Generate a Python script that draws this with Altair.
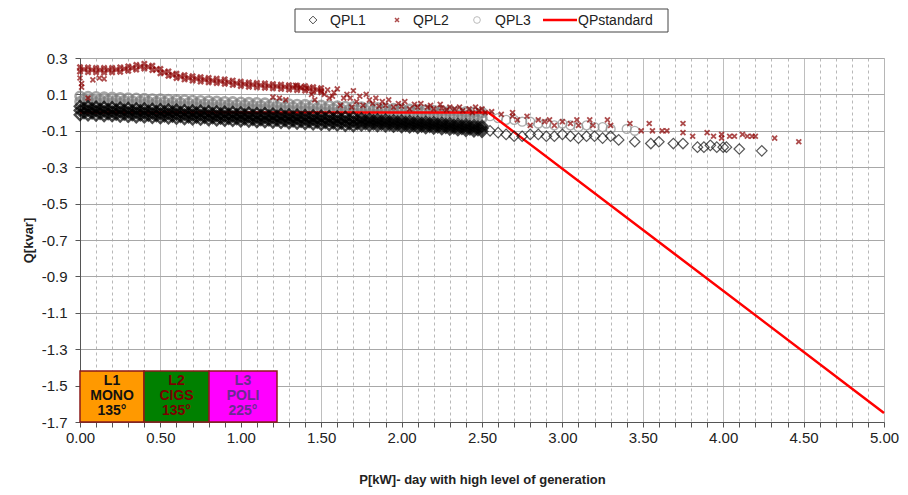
import altair as alt
import pandas as pd

# ---------------- data ----------------
P_DENSE = [0.00, 0.05, 0.10, 0.15, 0.20, 0.25, 0.30, 0.35, 0.40, 0.45,
           0.50, 0.55, 0.60, 0.65, 0.70, 0.75, 0.80, 0.85, 0.90, 0.95,
           1.00, 1.05, 1.10, 1.15, 1.20, 1.25, 1.30, 1.35, 1.40, 1.45,
           1.50, 1.55, 1.60, 1.65, 1.70, 1.75, 1.80, 1.85, 1.90, 1.95,
           2.00, 2.05, 2.10, 2.15, 2.20, 2.25, 2.30, 2.35, 2.40, 2.45, 2.50]
P_HALF = [0.025, 0.075, 0.125, 0.175, 0.225, 0.275, 0.325, 0.375, 0.425, 0.475,
          0.525, 0.575, 0.625, 0.675, 0.725, 0.775, 0.825, 0.875, 0.925, 0.975,
          1.025, 1.075, 1.125, 1.175, 1.225, 1.275, 1.325, 1.375, 1.425, 1.475,
          1.525, 1.575, 1.625, 1.675, 1.725, 1.775, 1.825, 1.875, 1.925, 1.975,
          2.025, 2.075, 2.125, 2.175, 2.225, 2.275, 2.325, 2.375, 2.425, 2.475]

# QPL1 dense band (rows across the black cloud)
QPL1_UP = [0.035, 0.034, 0.031, 0.030, 0.028, 0.026, 0.024, 0.022, 0.021, 0.019,
           0.017, 0.016, 0.014, 0.012, 0.010, 0.009, 0.007, 0.005, 0.003, 0.002,
           0.000, -0.002, -0.004, -0.005, -0.007, -0.009, -0.011, -0.013, -0.015, -0.017,
           -0.019, -0.021, -0.023, -0.025, -0.027, -0.033, -0.036, -0.039, -0.041, -0.044,
           -0.046, -0.048, -0.051, -0.053, -0.055, -0.058, -0.061, -0.064, -0.067, -0.070, -0.073]
QPL1_MID = [0.012, 0.011, 0.008, 0.007, 0.005, 0.003, 0.001, -0.001, -0.002, -0.004,
            -0.006, -0.007, -0.009, -0.011, -0.013, -0.014, -0.016, -0.018, -0.020, -0.021,
            -0.023, -0.025, -0.027, -0.028, -0.030, -0.032, -0.034, -0.036, -0.038, -0.040,
            -0.042, -0.044, -0.046, -0.048, -0.050, -0.051, -0.053, -0.055, -0.057, -0.060,
            -0.062, -0.064, -0.066, -0.068, -0.070, -0.073, -0.076, -0.079, -0.082, -0.085, -0.088]
QPL1_LO = [-0.012, -0.013, -0.015, -0.017, -0.018, -0.020, -0.022, -0.024, -0.025, -0.027,
           -0.029, -0.030, -0.032, -0.034, -0.036, -0.037, -0.039, -0.041, -0.043, -0.044,
           -0.046, -0.048, -0.050, -0.051, -0.053, -0.055, -0.057, -0.059, -0.061, -0.063,
           -0.065, -0.067, -0.069, -0.071, -0.073, -0.069, -0.071, -0.072, -0.074, -0.076,
           -0.078, -0.080, -0.082, -0.084, -0.086, -0.089, -0.092, -0.095, -0.098, -0.101, -0.104]
QPL1_HU = [0.023, 0.021, 0.019, 0.017, 0.015, 0.013, 0.011, 0.010, 0.008, 0.006,
           0.005, 0.003, 0.001, -0.001, -0.002, -0.004, -0.006, -0.008, -0.009, -0.011,
           -0.013, -0.015, -0.016, -0.018, -0.020, -0.022, -0.024, -0.026, -0.028, -0.030,
           -0.032, -0.034, -0.036, -0.038, -0.040, -0.043, -0.045, -0.047, -0.050, -0.052,
           -0.054, -0.057, -0.059, -0.061, -0.064, -0.067, -0.070, -0.073, -0.076, -0.079]
QPL1_HL = [-0.001, -0.003, -0.005, -0.007, -0.009, -0.010, -0.012, -0.014, -0.015, -0.017,
           -0.019, -0.020, -0.022, -0.024, -0.026, -0.027, -0.029, -0.031, -0.033, -0.034,
           -0.036, -0.038, -0.040, -0.041, -0.043, -0.045, -0.047, -0.049, -0.051, -0.053,
           -0.055, -0.057, -0.059, -0.061, -0.061, -0.061, -0.063, -0.065, -0.067, -0.069,
           -0.071, -0.073, -0.075, -0.077, -0.080, -0.082, -0.085, -0.088, -0.091, -0.094]
QPL1_TAIL_P = [2.55, 2.60, 2.65, 2.70, 2.75, 2.80, 2.85, 2.90, 2.95, 3.00, 3.05, 3.10,
               3.15, 3.20, 3.25, 3.30, 3.35, 3.45, 3.55, 3.60, 3.69, 3.75, 3.84, 3.88,
               3.92, 3.96, 4.00, 4.02, 4.10, 4.24]
QPL1_TAIL_Q = [-0.10, -0.11, -0.12, -0.13, -0.13, -0.12, -0.12, -0.13, -0.13, -0.12, -0.13, -0.14,
               -0.13, -0.13, -0.14, -0.13, -0.15, -0.16, -0.17, -0.16, -0.17, -0.17, -0.19, -0.19,
               -0.18, -0.19, -0.19, -0.19, -0.20, -0.21]

# QPL3 dense band (grey circles)
QPL3_UP = [0.090, 0.088, 0.087, 0.085, 0.084, 0.082, 0.080, 0.079, 0.077, 0.075,
           0.074, 0.072, 0.070, 0.069, 0.067, 0.065, 0.064, 0.062, 0.060, 0.059,
           0.057, 0.055, 0.054, 0.052, 0.050, 0.049, 0.047, 0.045, 0.044, 0.042,
           0.040, 0.038, 0.036, 0.034, 0.032, 0.030, 0.028, 0.026, 0.024, 0.022,
           0.020, 0.018, 0.016, 0.014, 0.012, 0.010, 0.008, 0.006, 0.004, 0.002, 0.000]
QPL3_LO = [0.060, 0.058, 0.056, 0.055, 0.053, 0.051, 0.049, 0.047, 0.046, 0.044,
           0.042, 0.040, 0.038, 0.037, 0.035, 0.033, 0.031, 0.029, 0.028, 0.026,
           0.024, 0.022, 0.020, 0.019, 0.017, 0.015, 0.013, 0.011, 0.010, 0.008,
           0.006, 0.004, 0.002, 0.001, -0.001, -0.003, -0.005, -0.007, -0.008, -0.010,
           -0.012, -0.014, -0.016, -0.017, -0.019, -0.021, -0.023, -0.025, -0.026, -0.028, -0.030]
QPL3_HM = [0.074, 0.072, 0.071, 0.069, 0.068, 0.066, 0.064, 0.063, 0.061, 0.059,
           0.058, 0.056, 0.054, 0.053, 0.051, 0.049, 0.048, 0.046, 0.044, 0.043,
           0.041, 0.039, 0.038, 0.036, 0.034, 0.032, 0.031, 0.029, 0.027, 0.025,
           0.023, 0.021, 0.019, 0.017, 0.016, 0.014, 0.012, 0.010, 0.008, 0.006,
           0.004, 0.002, 0.000, -0.002, -0.004, -0.006, -0.008, -0.010, -0.012, -0.014]
QPL3_TAIL_P = [0.08, 0.57, 2.55, 2.60, 2.65, 2.70, 2.75, 2.80, 2.85, 2.90, 2.95, 3.00,
               3.05, 3.10, 3.15, 3.20, 3.25, 3.30, 3.40, 3.45]
QPL3_TAIL_Q = [0.025, 0.015, -0.02, -0.03, -0.04, -0.04, -0.05, -0.05, -0.06, -0.06, -0.07, -0.06,
               -0.07, -0.08, -0.07, -0.08, -0.08, -0.09, -0.09, -0.10]

# QPL2 dense band for P 0.00 .. 1.50 (dark red crosses)
QPL2_UP = [0.250, 0.248, 0.246, 0.245, 0.246, 0.249, 0.254, 0.262, 0.268, 0.258,
           0.240, 0.226, 0.214, 0.206, 0.200, 0.195, 0.190, 0.186, 0.182, 0.176,
           0.170, 0.166, 0.163, 0.160, 0.157, 0.154, 0.151, 0.148, 0.145, 0.140, 0.135]
QPL2_LO = [0.225, 0.222, 0.221, 0.220, 0.221, 0.224, 0.229, 0.236, 0.242, 0.234,
           0.216, 0.202, 0.190, 0.182, 0.176, 0.171, 0.166, 0.162, 0.158, 0.152,
           0.146, 0.142, 0.139, 0.136, 0.133, 0.130, 0.127, 0.124, 0.121, 0.116, 0.111]
QPL2_HM = [0.237, 0.235, 0.234, 0.234, 0.236, 0.240, 0.246, 0.253, 0.251, 0.237,
           0.221, 0.208, 0.198, 0.191, 0.186, 0.181, 0.176, 0.172, 0.167, 0.161,
           0.156, 0.153, 0.150, 0.147, 0.144, 0.141, 0.138, 0.135, 0.131, 0.126]
QPL2_SCAT_P = [0.00, 0.01, 0.01, 0.08, 0.12, 0.15, 0.05,
               1.20, 1.24, 1.28, 1.34, 1.37, 1.41, 1.44, 1.46, 1.50, 1.52, 1.54, 1.55, 1.57,
               1.58, 1.60, 1.62, 1.64, 1.66, 1.68, 1.69, 1.70, 1.72, 1.74, 1.76, 1.78,
               1.80, 1.82, 1.84, 1.86, 1.88, 1.90, 1.92, 1.95, 1.98, 2.00, 2.02, 2.05,
               2.08, 2.10, 2.12, 2.16, 2.18, 2.20, 2.24, 2.25, 2.28, 2.30, 2.33, 2.36,
               2.38, 2.42, 2.44, 2.46, 2.48, 2.50, 2.52, 2.56, 2.62, 2.69, 2.69, 2.72,
               2.78, 2.80, 2.85, 2.89, 2.92, 2.95, 3.00, 3.05, 3.09, 3.10, 3.17, 3.19,
               3.28, 3.30, 3.42, 3.49, 3.54, 3.56, 3.62, 3.65, 3.75, 3.75, 3.81, 3.90,
               3.94, 3.99, 3.99, 4.04, 4.07, 4.12, 4.15, 4.18, 4.20, 4.32, 4.47]
QPL2_SCAT_Q = [0.19, 0.16, 0.14, 0.18, 0.19, 0.185, 0.08,
               0.085, 0.08, 0.07, 0.15, 0.14, 0.135, 0.10, 0.07, 0.12, 0.10, 0.125, 0.08, 0.09,
               0.11, 0.13, 0.04, 0.08, 0.10, 0.08, 0.03, 0.12, 0.06, 0.09, 0.04, 0.10,
               0.07, 0.05, 0.08, 0.035, 0.06, 0.04, 0.07, 0.03, 0.05, 0.035, 0.06, 0.02,
               0.045, 0.03, 0.05, 0.03, 0.04, 0.02, 0.045, 0.025, 0.015, 0.03, 0.02, 0.03,
               0.01, 0.02, 0.00, 0.03, 0.01, 0.02, 0.00, 0.005, -0.01, 0.00, -0.02, -0.04,
               -0.02, -0.07, -0.04, -0.05, -0.04, -0.07, -0.05, -0.06, -0.04, -0.07, -0.04, -0.07,
               -0.04, -0.07, -0.06, -0.10, -0.06, -0.10, -0.10, -0.10, -0.06, -0.11, -0.13, -0.11,
               -0.13, -0.12, -0.14, -0.13, -0.13, -0.12, -0.13, -0.13, -0.13, -0.14, -0.16]

# QPstandard characteristic
STD_P = [0.00, 2.54, 5.00]
STD_Q = [0.00, 0.00, -1.65]

X_TICKS = [round(i * 0.1, 1) for i in range(51)]
Y_TICKS = [-1.7, -1.5, -1.3, -1.1, -0.9, -0.7, -0.5, -0.3, -0.1, 0.1, 0.3]

# ---------------- tables ----------------
n2 = len(QPL2_UP)
n2h = len(QPL2_HM)
df1d = pd.DataFrame({"P": P_DENSE * 3 + P_HALF * 2,
                     "Q": QPL1_UP + QPL1_MID + QPL1_LO + QPL1_HU + QPL1_HL})
df1t = pd.DataFrame({"P": QPL1_TAIL_P, "Q": QPL1_TAIL_Q})
df3d = pd.DataFrame({"P": P_DENSE * 2 + P_HALF, "Q": QPL3_UP + QPL3_LO + QPL3_HM})
df3t = pd.DataFrame({"P": QPL3_TAIL_P, "Q": QPL3_TAIL_Q})
df2d = pd.DataFrame({"P": P_DENSE[:n2] * 2 + P_HALF[:n2h], "Q": QPL2_UP + QPL2_LO + QPL2_HM})
df2t = pd.DataFrame({"P": QPL2_SCAT_P, "Q": QPL2_SCAT_Q})
dfs = pd.DataFrame({"P": STD_P, "Q": STD_Q})

FONT = "Liberation Sans"
major = "abs(datum.value*2 - round(datum.value*2)) < 0.001"

xscale = alt.Scale(domain=[0, 5], nice=False, zero=False, padding=0)
yscale = alt.Scale(domain=[-1.7, 0.3], nice=False, zero=False, padding=0)

xaxis = alt.Axis(
    values=X_TICKS,
    labelExpr=f"{major} ? format(datum.value, '.2f') : ''",
    labelOverlap=False, labelFlush=False, labelFont=FONT, labelFontSize=15,
    labelColor="#222222", labelPadding=3,
    title="P[kW]- day with high level of generation",
    titleFont=FONT, titleFontSize=13, titleFontWeight="bold", titleColor="#222222",
    titlePadding=28,
    tickSize=5, tickColor="#555555", domainColor="#555555",
    grid=True,
    gridColor={"condition": {"test": major, "value": "#a8a8a8"}, "value": "#b8b8b8"},
    gridDash={"condition": {"test": major, "value": [1, 0]}, "value": [3, 3]},
)
yaxis = alt.Axis(
    values=Y_TICKS,
    labelExpr="(datum.value < 0 ? '-' : '') + format(abs(datum.value), '.1f')",
    labelFlush=False, labelOverlap=False,
    labelFont=FONT, labelFontSize=15, labelColor="#222222", labelPadding=8,
    title="Q[kvar]", titleFont=FONT, titleFontSize=13, titleFontWeight="bold",
    titleColor="#222222", titlePadding=6,
    tickSize=5, tickColor="#555555", domainColor="#555555",
    grid=True, gridColor="#a8a8a8",
)

X = alt.X("P:Q", scale=xscale, axis=xaxis)
Y = alt.Y("Q:Q", scale=yscale, axis=yaxis)

XPATH = "M-1,-1L1,1M1,-1L-1,1"

# dense clouds are drawn with heavier strokes to mimic heavy overplotting
l3d = alt.Chart(df3d).mark_point(shape="circle", filled=False, color="#7f7f7f",
                                 size=80, strokeWidth=2.6).encode(x=X, y=Y)
l3t = alt.Chart(df3t).mark_point(shape="circle", filled=False, color="#8c8c8c",
                                 size=80, strokeWidth=1.3).encode(x=X, y=Y)
lstd = alt.Chart(dfs).mark_line(color="#ff0000", strokeWidth=2.5).encode(x=X, y=Y)
l1d = alt.Chart(df1d).mark_point(shape="diamond", filled=False, color="#000000",
                                 size=110, strokeWidth=2.4).encode(x=X, y=Y)
l1t = alt.Chart(df1t).mark_point(shape="diamond", filled=False, color="#111111",
                                 size=110, strokeWidth=1.2).encode(x=X, y=Y)
l2d = alt.Chart(df2d).mark_point(shape=XPATH, filled=False, color="#8b0000",
                                 size=26, strokeWidth=2.4).encode(x=X, y=Y)
l2t = alt.Chart(df2t).mark_point(shape=XPATH, filled=False, color="#8b0000",
                                 size=24, strokeWidth=1.8).encode(x=X, y=Y)

# ---------------- legend (chart furniture) ----------------
one = pd.DataFrame({"k": [0]})
leg_box = alt.Chart(one).mark_rect(fill="white", stroke="#444444", strokeWidth=1).encode(
    x=alt.value(215), x2=alt.value(588), y=alt.value(-49), y2=alt.value(-26))
leg_d = alt.Chart(one).mark_point(shape="diamond", filled=False, color="#000000",
                                  size=60, strokeWidth=1).encode(x=alt.value(233), y=alt.value(-38))
leg_x = alt.Chart(one).mark_point(shape=XPATH, filled=False, color="#8b0000",
                                  size=16, strokeWidth=1.5).encode(x=alt.value(317), y=alt.value(-38))
leg_c = alt.Chart(one).mark_point(shape="circle", filled=False, color="#a0a0a0",
                                  size=45, strokeWidth=1).encode(x=alt.value(397), y=alt.value(-38))
leg_l = alt.Chart(one).mark_rule(color="#ff0000", strokeWidth=2.5).encode(
    x=alt.value(463), x2=alt.value(497), y=alt.value(-38))
def leg_text(txt, x):
    return alt.Chart(one).mark_text(text=txt, align="left", baseline="middle", font=FONT,
                                    fontSize=14, color="#222222").encode(
        x=alt.value(x), y=alt.value(-37))
legend = [leg_box, leg_d, leg_x, leg_c, leg_l,
          leg_text("QPL1", 250), leg_text("QPL2", 333), leg_text("QPL3", 415),
          leg_text("QPstandard", 498)]

# ---------------- inset boxes ----------------
BOX_FILL = ["#ff9900", "#008000", "#ff00ff"]
BOX_TEXT = [["L1", "MONO", "135°"], ["L2", "CIGS", "135°"], ["L3", "POLI", "225°"]]
BOX_TXT_COLOR = ["#111111", "#7a0000", "#6a2c91"]
BOX_X = [(0, 64), (64, 129), (129, 197)]
inset = []
for fill, txt, tc, (xa, xb) in zip(BOX_FILL, BOX_TEXT, BOX_TXT_COLOR, BOX_X):
    inset.append(alt.Chart(one).mark_rect(fill=fill, stroke="#8b1a1a", strokeWidth=1.5).encode(
        x=alt.value(xa), x2=alt.value(xb), y=alt.value(313), y2=alt.value(364)))
    inset.append(alt.Chart(one).mark_text(text=txt, align="center", baseline="top", font=FONT,
                                          fontSize=14, fontWeight="bold", lineHeight=15,
                                          color=tc).encode(
        x=alt.value((xa + xb) / 2), y=alt.value(316)))

chart = alt.layer(l3d, l3t, lstd, l1d, l1t, l2d, l2t, *inset, *legend).properties(
    width=804, height=364,
    autosize=alt.AutoSizeParams(type="none"),
    padding={"left": 72, "top": 50, "right": 16, "bottom": 65},
).configure_view(stroke="#999999", strokeWidth=1).configure(background="white")

chart.save("out.html", embed_options={"renderer": "svg", "actions": False})
